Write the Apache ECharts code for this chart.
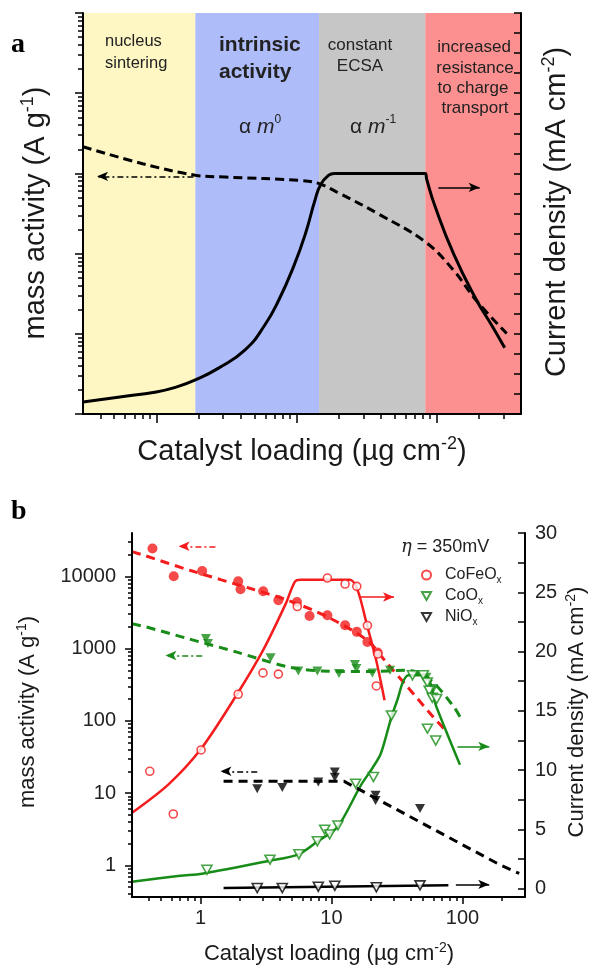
<!DOCTYPE html>
<html>
<head>
<meta charset="utf-8">
<script src="https://cdn.jsdelivr.net/npm/echarts@6/dist/echarts.min.js"></script>
<style>
  html, body { margin: 0; padding: 0; background: #fff; }
  #chart { width: 590px; height: 967px; }
</style>
</head>
<body>
<div id="chart"></div>
<script>
// ---------- panel a (schematic) ----------
const bandEdges = [0.3, 1.9, 14.5, 83, 400]
const aCurLoading = [0.3, 0.55, 1.0, 1.4, 1.9, 2.8, 4.3, 5.9, 7.5, 9.6, 11.6, 13.6, 14.9, 16.9, 18.6, 83, 85, 97, 132, 192, 246, 306]
const aCurValue = [0.6, 0.85, 1.1, 1.35, 1.7, 2.3, 3.2, 4.4, 5.7, 7.4, 9.0, 10.7, 11.45, 11.9, 12.0, 12.0, 11.7, 10.4, 8.0, 5.7, 4.45, 3.3]
const aMassLoading = [0.3, 0.8, 1.9, 3.1, 10.9, 14.5, 20.4, 38, 83, 132, 192, 316]
const aMassValue = [2150, 1320, 950, 900, 815, 745, 560, 316, 140, 62, 26, 10.1]

// ---------- panel b (measured) ----------
const feMassLoading = [0.43, 0.625, 1.03, 1.94, 2.02, 3.01, 3.93, 5.45, 6.8, 9.3, 12.7, 15.6, 18.8, 22.5]
const feMassValue = [24200, 10000, 11800, 8500, 6600, 6200, 4650, 4400, 2820, 2890, 2100, 1700, 1230, 880]
const feCurLoading = [0.41, 0.62, 1.01, 1.94, 3.0, 3.93, 5.48, 9.3, 12.7, 15.6, 18.8, 22.6, 22.0]
const feCurValue = [9.9, 6.3, 11.7, 16.4, 18.2, 18.1, 23.8, 26.2, 25.7, 25.5, 22.2, 19.8, 17.1]
const feFitCurLoading = [0.3, 0.57, 1.01, 1.9, 3.0, 4.46, 5.26, 5.82, 13.8, 15.8, 18.6, 22.0, 25.4]
const feFitCurValue = [6.4, 8.8, 11.8, 16.4, 20.1, 24.0, 25.9, 26.06, 26.06, 25.2, 22.3, 19.2, 15.9]
const feFitMassLoading = [0.3, 0.37, 0.84, 2.41, 4.6, 9.29, 18.8, 26.7, 38, 60, 73]
const feFitMassValue = [21900, 19500, 12000, 6760, 4680, 2750, 1290, 617, 295, 112, 76]

const coMassLoading = [1.1, 1.14, 3.43, 5.58, 7.8, 11.4, 15.1, 15.5, 20.5, 28, 53, 60]
const coMassValue = [1380, 1170, 745, 490, 490, 450, 600, 530, 460, 500, 400, 280]
const coCurLoading = [1.12, 3.39, 5.64, 7.8, 8.87, 9.68, 11.2, 15.3, 20.9, 28.7, 41.5, 50.2, 53.8, 55.7, 58.8, 63.5, 54, 62.5]
const coCurValue = [1.6, 2.45, 2.9, 4.0, 4.98, 4.58, 5.34, 8.86, 9.42, 14.6, 18.0, 18.0, 17.4, 16.7, 16.1, 16.0, 13.5, 12.5]
const coFitCurLoading = [0.3, 0.7, 1.03, 3.3, 5.6, 7.85, 11.1, 16.7, 20.6, 23.8, 28.7, 32, 35, 38.6, 52, 63.4, 95.6]
const coFitCurValue = [0.59, 1.1, 1.27, 2.34, 2.9, 4.0, 5.2, 8.7, 10.2, 11.4, 14.5, 16.0, 17.4, 18.0, 18.0, 15.3, 10.45]
const coFitMassLoading = [0.3, 0.38, 0.79, 1.9, 4.6, 8.26, 20, 38, 57.3, 86, 98]
const coFitMassValue = [2200, 2000, 1380, 890, 560, 490, 480, 500, 363, 155, 105]

const niMassLoading = [2.71, 4.21, 7.93, 10.6, 10.6, 21.7, 21.7, 47.4]
const niMassValue = [11.5, 11.9, 14.2, 19.6, 16.5, 9.3, 7.9, 6.1]
const niCurLoading = [2.71, 4.21, 7.93, 10.6, 22, 47.4]
const niCurValue = [0.05, 0.05, 0.17, 0.25, 0.12, 0.28]
const niFitCurLoading = [1.5, 78]
const niFitCurValue = [0.05, 0.3]
const niFitMassLoading = [1.5, 12.5, 196, 271]
const niFitMassValue = [14.5, 14.5, 1.0, 0.77]

// tick labels
const bLoadingTicks = [1, 10, 100]
const bMassTicks = [1, 10, 100, 1000, 10000]
const bCurTicks = [0, 5, 10, 15, 20, 25, 30]

const FONT = '"Liberation Sans", Arial, sans-serif'
const RED = '#f41c1c'
const GREEN = '#188c18'
const BLACK = '#000'
const TRI = 'path://M0,0L10,0L5,8.7Z'
const log10 = Math.log10
const zip = (xs, ys) => xs.map((x, i) => [x, ys[i]])

function logMinors(lo, hi) {
  let out = []
  for (let e = -2; e <= 5; e++) {
    for (let k = 2; k <= 9; k++) {
      let v = k * Math.pow(10, e)
      if (v > lo * 1.001 && v < hi * 0.999) out.push(log10(v))
    }
  }
  return out
}

function tickAxis(grid, pos, lo, hi, ticks, len, inside) {
  return {
    type: 'value', gridIndex: grid, position: pos, min: lo, max: hi,
    axisLine: { show: false, onZero: false },
    axisLabel: { show: false },
    splitLine: { show: false },
    axisTick: { show: true, inside: !!inside, length: len, customValues: ticks, lineStyle: { color: BLACK, width: 1.5 } },
    z: 10, silent: true
  }
}

const lineAx = { show: true, onZero: false, lineStyle: { color: BLACK, width: 2 } }

let myChart = echarts.init(document.getElementById('chart'), null, { renderer: 'canvas' })

function arrow(x1, y1, x2, y2, color, dotted) {
  return {
    silent: true, symbol: ['none', 'arrow'], symbolSize: [7, 11],
    label: { show: false },
    lineStyle: { color: color, width: 1.6, type: dotted ? [6, 3, 2, 3] : 'solid' },
    data: [[{ coord: [x1, y1] }, { coord: [x2, y2] }]]
  }
}

const bandColors = ['#fef7c3', '#aebcfa', '#c6c6c6', '#fc8f8f']

let option = {
  animation: false,
  backgroundColor: '#fff',
  grid: [
    { left: 83, top: 13, width: 438, height: 401 },
    { left: 132, top: 533, width: 393, height: 364 }
  ],
  xAxis: [
    // panel a
    { type: 'log', gridIndex: 0, min: 0.3, max: 400, axisLine: lineAx, axisTick: { show: false }, axisLabel: { show: false }, splitLine: { show: false }, z: 10 },
    tickAxis(0, 'bottom', log10(0.3), log10(400), [0, 1, 2], 9),
    tickAxis(0, 'bottom', log10(0.3), log10(400), logMinors(0.3, 400), 5),
    // panel b
    {
      type: 'log', gridIndex: 1, min: 0.3, max: 300, axisLine: lineAx, axisTick: { show: false }, splitLine: { show: false },
      axisLabel: { showMinLabel: false, showMaxLabel: false, margin: 11, fontSize: 20, fontFamily: FONT, color: '#222', formatter: v => String(Math.round(v)) },
      z: 10
    },
    tickAxis(1, 'bottom', log10(0.3), log10(300), bLoadingTicks.map(log10), 7),
    tickAxis(1, 'bottom', log10(0.3), log10(300), logMinors(0.3, 300), 4)
  ],
  yAxis: [
    // panel a
    { type: 'log', gridIndex: 0, position: 'left', min: 1, max: 100000, axisLine: lineAx, axisTick: { show: false }, axisLabel: { show: false }, splitLine: { show: false }, z: 10 },
    tickAxis(0, 'left', 0, 5, [0, 1, 2, 3, 4, 5], 8),
    tickAxis(0, 'left', 0, 5, logMinors(1, 100000), 5),
    {
      type: 'value', gridIndex: 0, position: 'right', min: 0, max: 20, interval: 1,
      axisLine: lineAx, axisLabel: { show: false }, splitLine: { show: false },
      axisTick: { inside: true, length: 7, lineStyle: { color: BLACK, width: 1.5 } }, z: 10
    },
    // panel b
    {
      type: 'log', gridIndex: 1, position: 'left', min: 0.364, max: 39700, axisLine: lineAx, axisTick: { show: false }, splitLine: { show: false },
      axisLabel: { showMinLabel: false, showMaxLabel: false, margin: 16, fontSize: 20, fontFamily: FONT, color: '#222', formatter: v => String(Math.round(v)) },
      z: 10
    },
    tickAxis(1, 'left', log10(0.364), log10(39700), bMassTicks.map(log10), 7),
    tickAxis(1, 'left', log10(0.364), log10(39700), logMinors(0.364, 39700), 4),
    {
      type: 'value', gridIndex: 1, position: 'right', min: -0.7, max: 30,
      axisLine: lineAx, splitLine: { show: false },
      axisTick: { inside: true, length: 7, customValues: [0, 2.5, 5, 7.5, 10, 12.5, 15, 17.5, 20, 22.5, 25, 27.5, 30], lineStyle: { color: BLACK, width: 1.5 } },
      axisLabel: { customValues: bCurTicks, margin: 10, fontSize: 20, fontFamily: FONT, color: '#222' },
      z: 10
    }
  ],
  legend: {
    left: 416, top: 562, orient: 'vertical', itemWidth: 9, itemHeight: 9, itemGap: 3,
    selectedMode: false,
    data: ['CoFeOx', 'CoOx', 'NiOx'],
    formatter: name => '{p|}{n|' + name.slice(0, -1) + '}{s|x}',
    textStyle: {
      fontFamily: FONT, fontSize: 16, color: '#222',
      rich: {
        p: { width: 9 },
        n: { fontSize: 16, lineHeight: 20, fontFamily: FONT, color: '#222' },
        s: { fontSize: 10, lineHeight: 8, verticalAlign: 'bottom', fontFamily: FONT, color: '#222' }
      }
    }
  },
  series: [
    // ---- panel a ----
    {
      type: 'line', xAxisIndex: 0, yAxisIndex: 0, data: [], z: 1, silent: true,
      markArea: {
        silent: true,
        data: bandEdges.slice(0, -1).map((e, i) => [
          { xAxis: e, itemStyle: { color: bandColors[i], opacity: 1 } },
          { xAxis: bandEdges[i + 1] }
        ])
      }
    },
    {
      type: 'line', xAxisIndex: 0, yAxisIndex: 0, data: zip(aMassLoading, aMassValue), smooth: 0.4,
      showSymbol: false, z: 3, lineStyle: { color: BLACK, width: 3, type: [9, 5] },
      markLine: arrow(1.84, 920, 0.378, 920, BLACK, true)
    },
    {
      type: 'line', xAxisIndex: 0, yAxisIndex: 3, data: zip(aCurLoading, aCurValue), smooth: 0.5,
      showSymbol: false, z: 3, lineStyle: { color: BLACK, width: 3 },
      markLine: arrow(103, 11.3, 203, 11.3, BLACK, false)
    },
    // ---- panel b : fits ----
    {
      type: 'line', xAxisIndex: 3, yAxisIndex: 4, data: zip(feFitMassLoading, feFitMassValue), smooth: 0.3,
      showSymbol: false, z: 3, lineStyle: { color: RED, width: 3, type: [9, 6] },
      markLine: arrow(1.3, 26000, 0.68, 26000, RED, true)
    },
    {
      type: 'line', xAxisIndex: 3, yAxisIndex: 7, data: zip(feFitCurLoading, feFitCurValue), smooth: 0.3,
      showSymbol: false, z: 3, lineStyle: { color: RED, width: 2.5 },
      markLine: arrow(16.2, 24.6, 30, 24.6, RED, false)
    },
    {
      type: 'line', xAxisIndex: 3, yAxisIndex: 4, data: zip(coFitMassLoading, coFitMassValue), smooth: 0.3,
      showSymbol: false, z: 3, lineStyle: { color: GREEN, width: 3, type: [9, 6] },
      markLine: arrow(1.03, 800, 0.54, 800, GREEN, true)
    },
    {
      type: 'line', xAxisIndex: 3, yAxisIndex: 7, data: zip(coFitCurLoading, coFitCurValue), smooth: 0.3,
      showSymbol: false, z: 3, lineStyle: { color: GREEN, width: 2.5 },
      markLine: arrow(91.6, 12.0, 160, 12.0, GREEN, false)
    },
    {
      type: 'line', xAxisIndex: 3, yAxisIndex: 4, data: zip(niFitMassLoading, niFitMassValue),
      showSymbol: false, z: 3, lineStyle: { color: BLACK, width: 3, type: [9, 6] },
      markLine: arrow(2.71, 20, 1.42, 20, BLACK, true)
    },
    {
      type: 'line', xAxisIndex: 3, yAxisIndex: 7, data: zip(niFitCurLoading, niFitCurValue),
      showSymbol: false, z: 3, lineStyle: { color: BLACK, width: 2.5 },
      markLine: arrow(89, 0.36, 160, 0.36, BLACK, false)
    },
    // ---- panel b : points ----
    {
      name: 'CoFeOx mass', type: 'scatter', xAxisIndex: 3, yAxisIndex: 4, data: zip(feMassLoading, feMassValue),
      symbol: 'circle', symbolSize: 10, z: 4, itemStyle: { color: RED }
    },
    {
      name: 'CoFeOx', type: 'scatter', xAxisIndex: 3, yAxisIndex: 7, data: zip(feCurLoading, feCurValue),
      symbol: 'circle', symbolSize: 8, z: 5, itemStyle: { color: '#fff', borderColor: RED, borderWidth: 1.6 }
    },
    {
      name: 'CoOx mass', type: 'scatter', xAxisIndex: 3, yAxisIndex: 4, data: zip(coMassLoading, coMassValue),
      symbol: TRI, symbolSize: [10, 9], z: 4, itemStyle: { color: GREEN }
    },
    {
      name: 'CoOx', type: 'scatter', xAxisIndex: 3, yAxisIndex: 7, data: zip(coCurLoading, coCurValue),
      symbol: TRI, symbolSize: [10, 9], z: 5, itemStyle: { color: '#fff', borderColor: GREEN, borderWidth: 1.6 }
    },
    {
      name: 'NiOx mass', type: 'scatter', xAxisIndex: 3, yAxisIndex: 4, data: zip(niMassLoading, niMassValue),
      symbol: TRI, symbolSize: [10, 9], z: 4, itemStyle: { color: BLACK }
    },
    {
      name: 'NiOx', type: 'scatter', xAxisIndex: 3, yAxisIndex: 7, data: zip(niCurLoading, niCurValue),
      symbol: TRI, symbolSize: [10, 9], z: 5, itemStyle: { color: '#fff', borderColor: BLACK, borderWidth: 1.6 }
    }
  ],
  graphic: [
    // panel letters
    { type: 'text', x: 11, y: 45, style: { text: 'a', fontFamily: '"Liberation Serif", "DejaVu Serif", serif', fontWeight: 'bold', fontSize: 28, fill: '#000', align: 'left', verticalAlign: 'middle' } },
    { type: 'text', x: 11, y: 512, style: { text: 'b', fontFamily: '"Liberation Serif", "DejaVu Serif", serif', fontWeight: 'bold', fontSize: 28, fill: '#000', align: 'left', verticalAlign: 'middle' } },
    // panel a region texts
    { type: 'text', x: 105, y: 41, z: 20, style: { text: 'nucleus', fontFamily: FONT, fontSize: 16.5, fill: '#222', align: 'left', verticalAlign: 'middle' } },
    { type: 'text', x: 105, y: 63, z: 20, style: { text: 'sintering', fontFamily: FONT, fontSize: 16.5, fill: '#222', align: 'left', verticalAlign: 'middle' } },
    { type: 'text', x: 219, y: 45, z: 20, style: { text: 'intrinsic', fontFamily: FONT, fontWeight: 'bold', fontSize: 21, fill: '#222', align: 'left', verticalAlign: 'middle' } },
    { type: 'text', x: 219, y: 72, z: 20, style: { text: 'activity', fontFamily: FONT, fontWeight: 'bold', fontSize: 21, fill: '#222', align: 'left', verticalAlign: 'middle' } },
    { type: 'text', x: 360, y: 45, z: 20, style: { text: 'constant', fontFamily: FONT, fontSize: 17, fill: '#222', align: 'center', verticalAlign: 'middle' } },
    { type: 'text', x: 360, y: 66, z: 20, style: { text: 'ECSA', fontFamily: FONT, fontSize: 17, fill: '#222', align: 'center', verticalAlign: 'middle' } },
    { type: 'text', x: 474, y: 47, z: 20, style: { text: 'increased', fontFamily: FONT, fontSize: 17, fill: '#222', align: 'center', verticalAlign: 'middle' } },
    { type: 'text', x: 475, y: 68, z: 20, style: { text: 'resistance', fontFamily: FONT, fontSize: 17, fill: '#222', align: 'center', verticalAlign: 'middle' } },
    { type: 'text', x: 473, y: 88, z: 20, style: { text: 'to charge', fontFamily: FONT, fontSize: 17, fill: '#222', align: 'center', verticalAlign: 'middle' } },
    { type: 'text', x: 475, y: 108, z: 20, style: { text: 'transport', fontFamily: FONT, fontSize: 17, fill: '#222', align: 'center', verticalAlign: 'middle' } },
    {
      type: 'text', x: 260, y: 127, z: 20,
      style: {
        text: '{a|α }{m|m}{s|0}', align: 'center', verticalAlign: 'middle',
        rich: {
          a: { fontFamily: FONT, fontSize: 21, fill: '#222', lineHeight: 26 },
          m: { fontFamily: FONT, fontStyle: 'italic', fontSize: 21, fill: '#222', lineHeight: 26 },
          s: { fontFamily: FONT, fontSize: 12, fill: '#222', lineHeight: 14, verticalAlign: 'top' }
        }
      }
    },
    {
      type: 'text', x: 373, y: 127, z: 20,
      style: {
        text: '{a|α }{m|m}{s|-1}', align: 'center', verticalAlign: 'middle',
        rich: {
          a: { fontFamily: FONT, fontSize: 21, fill: '#222', lineHeight: 26 },
          m: { fontFamily: FONT, fontStyle: 'italic', fontSize: 21, fill: '#222', lineHeight: 26 },
          s: { fontFamily: FONT, fontSize: 12, fill: '#222', lineHeight: 14, verticalAlign: 'top' }
        }
      }
    },
    // panel a axis names
    axisName('mass activity (A g', '-1', ')', 36, 213, true, 29),
    axisName('Current density (mA cm', '-2', ')', 557, 212, true, 29),
    axisName('Catalyst loading (µg cm', '-2', ')', 302, 452, false, 29),
    // panel b axis names
    axisName('mass activity (A g', '-1', ')', 28, 712, true, 22),
    axisName('Current density (mA cm', '-2', ')', 577, 712, true, 22),
    axisName('Catalyst loading (µg cm', '-2', ')', 329, 954, false, 22),
    // overpotential
    {
      type: 'text', x: 401, y: 547, z: 20,
      style: {
        text: '{i|η}{t| = 350mV}', align: 'left', verticalAlign: 'middle',
        rich: {
          i: { fontFamily: '"DejaVu Serif", serif', fontStyle: 'italic', fontSize: 18, fill: '#222' },
          t: { fontFamily: FONT, fontSize: 18, fill: '#222' }
        }
      }
    }
  ]
}

function axisName(pre, sup, post, x, y, vertical, size) {
  return {
    type: 'text', x: x, y: y, rotation: vertical ? Math.PI / 2 : 0, z: 20,
    style: {
      text: '{t|' + pre + '}{s|' + sup + '}{t|' + post + '}',
      align: 'center', verticalAlign: 'middle',
      rich: {
        t: { fontFamily: FONT, fontSize: size, fill: '#1a1a1a', lineHeight: size * 1.2 },
        s: { fontFamily: FONT, fontSize: Math.round(size * 0.62), fill: '#1a1a1a', lineHeight: Math.round(size * 0.62), verticalAlign: 'top' }
      }
    }
  }
}

myChart.setOption(option)
</script>
</body>
</html>
